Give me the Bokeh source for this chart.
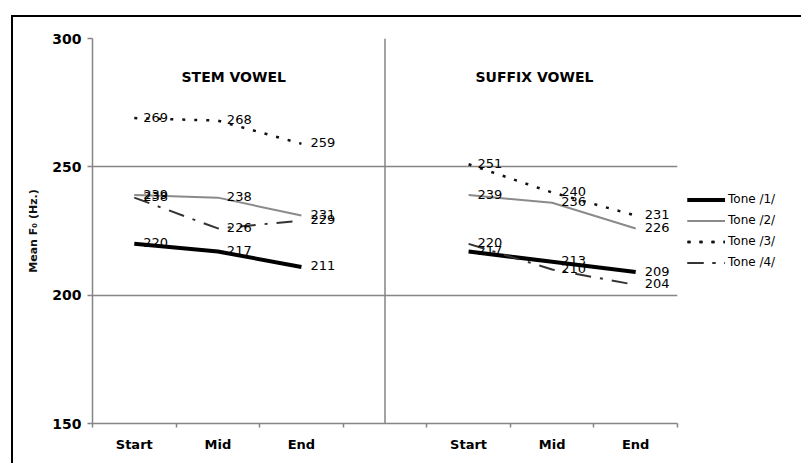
from bokeh.plotting import figure
from bokeh.models import FixedTicker, Legend, LegendItem, Span, ColumnDataSource
from bokeh.core.properties import value
from bokeh.embed import file_html
from bokeh.resources import INLINE

# Measurement points within each vowel and the two vowel panels
positions = ["Start", "Mid", "End"]
panel_titles = ["STEM VOWEL", "SUFFIX VOWEL"]
tone_names = ["Tone /1/", "Tone /2/", "Tone /3/", "Tone /4/"]

# Mean F0 (Hz) per tone, stem vowel
stem_tone1 = [220, 217, 211]
stem_tone2 = [239, 238, 231]
stem_tone3 = [269, 268, 259]
stem_tone4 = [238, 226, 229]

# Mean F0 (Hz) per tone, suffix vowel
suffix_tone1 = [217, 213, 209]
suffix_tone2 = [239, 236, 226]
suffix_tone3 = [251, 240, 231]
suffix_tone4 = [220, 210, 204]

y_ticks = [150, 200, 250, 300]

stem_series = [stem_tone1, stem_tone2, stem_tone3, stem_tone4]
suffix_series = [suffix_tone1, suffix_tone2, suffix_tone3, suffix_tone4]

# line styles: solid heavy, thin grey, dotted, dash-dot
styles = [
    dict(line_color="#000000", line_width=4.0, line_dash="solid"),
    dict(line_color="#8a8a8a", line_width=2.0, line_dash="solid"),
    dict(line_color="#111111", line_width=2.5, line_dash="3 9"),
    dict(line_color="#333333", line_width=2.0, line_dash="16 9 3 9"),
]

FONT = "DejaVu Sans"
GREY = "#858585"

# slot layout along x: three slots per panel, one empty slot between panels
n_slots = 2 * len(positions) + 1
stem_x = [i + 0.5 for i in range(len(positions))]
suffix_x = [len(positions) + 1 + i + 0.5 for i in range(len(positions))]

p = figure(
    frame_width=585, frame_height=385,
    x_range=(0, n_slots), y_range=(y_ticks[0], y_ticks[-1]),
    output_backend="svg", toolbar_location=None,
    min_border_left=79, min_border_top=21, min_border_right=0, min_border_bottom=40,
)
p.margin = (15, 0, 0, 11)
p.styles = {"border-left": "2px solid black", "border-top": "2px solid black"}
p.outline_line_color = None
p.background_fill_color = "white"
p.border_fill_color = "white"

# y axis
p.yaxis.ticker = FixedTicker(ticks=y_ticks, minor_ticks=[])
p.yaxis.axis_line_color = GREY
p.yaxis.axis_line_width = 1.5
p.yaxis.major_tick_line_color = GREY
p.yaxis.major_tick_line_width = 1.5
p.yaxis.major_tick_out = 5
p.yaxis.major_tick_in = 0
p.yaxis.major_label_standoff = 6
p.yaxis.major_label_text_font = FONT
p.yaxis.major_label_text_font_style = "bold"
p.yaxis.major_label_text_font_size = "14px"
p.yaxis.major_label_text_color = "#000000"
p.yaxis.axis_label = "Mean F\u2080 (Hz.)"
p.yaxis.axis_label_text_font = FONT
p.yaxis.axis_label_text_font_size = "11px"
p.yaxis.axis_label_text_font_style = "bold"
p.yaxis.axis_label_text_color = "#111111"
p.yaxis.axis_label_standoff = 9

# x axis: labels at slot centres, tick marks at slot boundaries
centers = stem_x + suffix_x
p.xaxis.ticker = FixedTicker(ticks=centers, minor_ticks=list(range(n_slots + 1)))
p.xaxis.major_label_overrides = {c: lab for c, lab in zip(centers, positions * 2)}
p.xaxis.major_tick_line_color = None
p.xaxis.minor_tick_line_color = GREY
p.xaxis.minor_tick_line_width = 1.5
p.xaxis.minor_tick_out = 4
p.xaxis.minor_tick_in = 0
p.xaxis.axis_line_color = GREY
p.xaxis.axis_line_width = 1.5
p.xaxis.major_label_standoff = 7
p.xaxis.major_label_text_font = FONT
p.xaxis.major_label_text_font_style = "bold"
p.xaxis.major_label_text_font_size = "13px"
p.xaxis.major_label_text_color = "#000000"

# grid: horizontal lines at 200, 250, 300 only
p.xgrid.visible = False
p.ygrid.ticker = FixedTicker(ticks=y_ticks[1:])
p.ygrid.grid_line_color = GREY
p.ygrid.grid_line_width = 1.5

# divider between the two panels
p.add_layout(Span(location=n_slots / 2, dimension="height",
                  line_color=GREY, line_width=1.5))

# panel titles, left-aligned near the top of each panel
title_src = ColumnDataSource(dict(x=[1.065, 4.583], y=[285, 285], t=panel_titles))
p.text(x="x", y="y", text="t", source=title_src,
       text_font=value(FONT), text_font_style="bold", text_font_size="14px",
       text_align="left", text_baseline="middle", text_color="#000000")

legend_items = []
for name, stem_vals, suffix_vals, st in zip(tone_names, stem_series, suffix_series, styles):
    rs = []
    for xs, vals in ((stem_x, stem_vals), (suffix_x, suffix_vals)):
        src = ColumnDataSource(dict(x=xs, y=vals, lab=[str(v) for v in vals]))
        r = p.line(x="x", y="y", source=src, line_join="round", **st)
        rs.append(r)
        p.text(x="x", y="y", text="lab", source=src,
               text_font=value(FONT), text_font_size="13px",
               text_align="left", text_baseline="middle",
               x_offset=9, y_offset=-1, text_color="#000000")
    legend_items.append(LegendItem(label=name, renderers=rs))

legend = Legend(items=legend_items, location="center_left",
                margin=10, padding=0, spacing=0,
                glyph_width=38, glyph_height=21, label_height=21,
                label_standoff=3,
                label_text_font=FONT, label_text_font_size="12px",
                label_text_color="#000000",
                border_line_color=None, background_fill_alpha=0)
p.add_layout(legend, "right")

open("out.html", "w").write(file_html(p, INLINE))
